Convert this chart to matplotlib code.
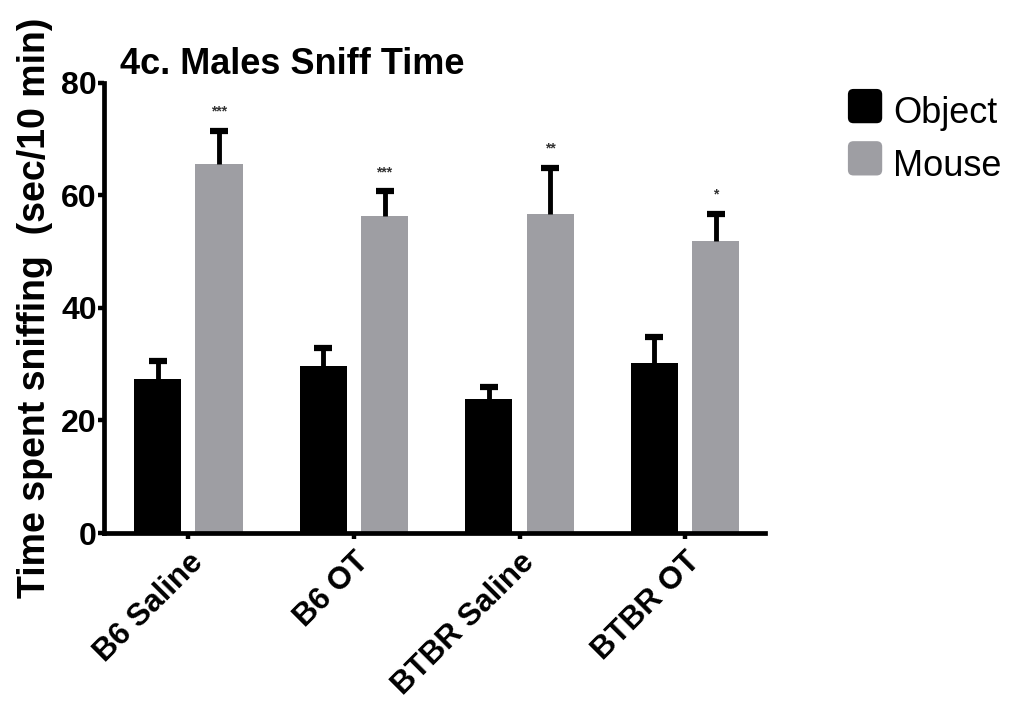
import matplotlib
matplotlib.use("Agg")
import matplotlib.pyplot as plt
import numpy as np
from matplotlib.patches import FancyBboxPatch, Patch
from matplotlib.legend_handler import HandlerPatch

plt.rcParams['font.family'] = ['Liberation Sans', 'DejaVu Sans']

groups = ["B6 Saline", "B6 OT", "BTBR Saline", "BTBR OT"]
object_mean = [27.3, 29.7, 23.9, 30.2]
object_sem = [3.3, 3.1, 2.0, 4.7]
mouse_mean = [65.6, 56.3, 56.6, 51.8]
mouse_sem = [5.8, 4.4, 8.3, 4.9]
stars = ["***", "***", "**", "*"]

black = "#000000"
grey = "#9e9ea3"

fig = plt.figure(figsize=(10.29, 7.07), dpi=100)
ax = fig.add_axes([0.101, 0.246, 0.642, 0.637])

x = np.arange(len(groups))
w = 0.285
off = 0.185

ax.bar(x - off, object_mean, w, color=black, zorder=2)
ax.bar(x + off, mouse_mean, w, color=grey, zorder=2)
for pos, mean, sem in [(x - off, object_mean, object_sem),
                       (x + off, mouse_mean, mouse_sem)]:
    eb = ax.errorbar(pos, mean, yerr=[np.zeros(len(mean)), sem], fmt='none',
                     ecolor=black, elinewidth=3.5, capsize=6.5, capthick=4.5,
                     zorder=3)
    # hide the lower caps (only upper SEM shown)
    eb[1][0].set_visible(False)

for xi, m, s, st in zip(x, mouse_mean, mouse_sem, stars):
    ax.text(xi + off, m + s + 2.2, st, ha='center', va='bottom',
            fontsize=10, fontweight='bold', color='#333333')

ax.set_xlim(-0.51, 3.48)
ax.set_ylim(0, 80)
ax.set_yticks([0, 20, 40, 60, 80])
ax.set_xticks(x)
ax.set_xticklabels(groups, rotation=45, ha='right', rotation_mode='anchor',
                   fontsize=22.5, fontweight='bold')
for lab in ax.get_yticklabels():
    lab.set_fontsize(23)
    lab.set_fontweight('bold')

for side in ['top', 'right']:
    ax.spines[side].set_visible(False)
for side in ['left', 'bottom']:
    ax.spines[side].set_linewidth(3.4)
ax.tick_params(axis='both', direction='out', width=3.2, length=4, pad=1)
ax.tick_params(axis='x', pad=6)

ax.set_ylabel("Time spent sniffing  (sec/10 min)", fontsize=27,
              fontweight='bold', labelpad=6)
ax.set_title("4c. Males Sniff Time", fontsize=26, fontweight='bold',
             loc='left', x=0.025, y=1.0, pad=6)


class HandlerRound(HandlerPatch):
    def create_artists(self, legend, orig_handle, xdescent, ydescent, width,
                       height, fontsize, trans):
        size = width
        p = FancyBboxPatch((xdescent, ydescent + (height - size) / 2 - 1),
                           size, size,
                           boxstyle="round,pad=0,rounding_size=4",
                           facecolor=orig_handle.get_facecolor(),
                           edgecolor='none', transform=trans)
        return [p]


handles = [Patch(facecolor=black), Patch(facecolor=grey)]
labels = ["Object", "Mouse"]
leg = fig.legend(handles, labels, loc='upper left',
                 bbox_to_anchor=(0.824, 0.865), frameon=False, fontsize=26,
                 borderpad=0, borderaxespad=0,
                 handlelength=0.95, handleheight=0.95, handletextpad=0.3,
                 labelspacing=0.45,
                 handler_map={Patch: HandlerRound()})

fig.savefig("out.png", dpi=100)
